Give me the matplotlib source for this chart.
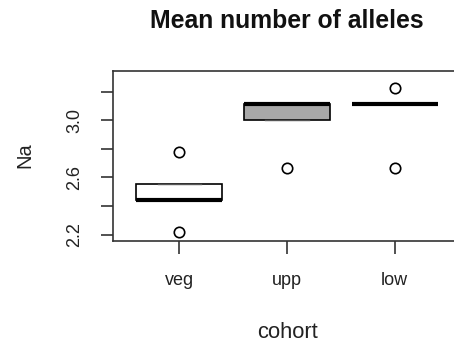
import matplotlib
matplotlib.use("Agg")
import matplotlib.pyplot as plt

plt.rcParams['font.family'] = ['Liberation Sans', 'DejaVu Sans']

# Five-number summaries of mean number of alleles per cohort
cohorts = ["veg", "upp", "low"]
medians = [2.444, 3.111, 3.111]
lower_hinge = [2.444, 3.000, 3.111]
upper_hinge = [2.556, 3.111, 3.111]
whisker_low = [2.444, 3.000, 3.111]
whisker_high = [2.556, 3.111, 3.111]
outliers = [[2.222, 2.778], [2.667], [3.222, 2.667]]
box_fill = ["white", "#a8a8a8", "white"]

yticks_major = [2.2, 2.4, 2.6, 2.8, 3.0, 3.2]
ytick_labels = ["2.2", "", "2.6", "", "3.0", ""]

fig = plt.figure(figsize=(4.54, 3.47), dpi=100)
ax = fig.add_axes([112.5 / 454, 1 - 241 / 347, 349 / 454, 170 / 347])

stats = []
for i, name in enumerate(cohorts):
    stats.append(dict(label=name, med=medians[i], q1=lower_hinge[i], q3=upper_hinge[i],
                      whislo=whisker_low[i], whishi=whisker_high[i], fliers=outliers[i]))

bp = ax.bxp(stats, positions=[1, 2, 3], widths=0.8, patch_artist=True,
            showcaps=True, capwidths=0.4,
            boxprops=dict(edgecolor="black", linewidth=1.2),
            medianprops=dict(color="black", linewidth=3.0, solid_capstyle="butt"),
            whiskerprops=dict(color="black", linewidth=1.0, linestyle="--"),
            capprops=dict(color="#555555", linewidth=1.0),
            flierprops=dict(marker="o", markersize=7.5, markerfacecolor="none",
                            markeredgecolor="black", markeredgewidth=1.2))
for patch, fc in zip(bp["boxes"], box_fill):
    patch.set_facecolor(fc)

ax.set_xlim(0.38, 3.62)
ax.set_ylim(2.156, 3.344)
ax.set_yticks(yticks_major)
ax.set_yticklabels(ytick_labels, rotation=90, va="center", fontsize=13)
ax.set_xticks([1, 2, 3])
ax.set_xticklabels(cohorts, fontsize=13)
ax.tick_params(axis="both", length=9, width=1.2, color="#333333", labelcolor="#222222")
ax.tick_params(axis="y", pad=12)
ax.tick_params(axis="x", pad=13.5)
for sp in ax.spines.values():
    sp.set_linewidth(1.2)
    sp.set_color("#333333")

fig.text(286.5 / 454, 1 - 28 / 347, "Mean number of alleles", ha="center", va="baseline",
         fontsize=17.8, fontweight="bold", color="#111111")
fig.text(24.5 / 454, 1 - 155 / 347, "Na", ha="center", va="center", rotation=90,
         fontsize=14.5, color="#222222")
fig.text(287 / 454, 1 - 337.7 / 347, "cohort", ha="center", va="baseline",
         fontsize=15.8, color="#222222")

fig.savefig("out.png", dpi=100)
